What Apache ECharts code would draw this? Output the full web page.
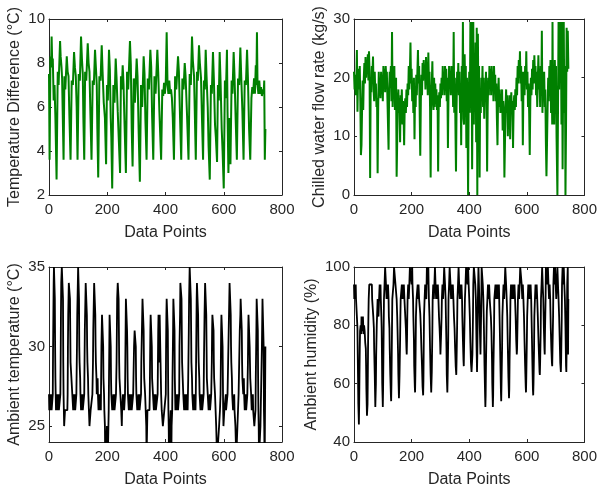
<!DOCTYPE html>
<html><head><meta charset="utf-8">
<script src="https://cdn.jsdelivr.net/npm/echarts@6/dist/echarts.min.js"></script>
<style>html,body{margin:0;padding:0;background:#fff}#c{width:600px;height:492px}</style>
</head><body><div id="c"></div>
<script>
// ---- data (x = data point index, y = value) ----
const xTicks = [0, 200, 400, 600, 800];
const ambTempTicks = [25, 30, 35];

const tempDiff = [
[0,7.5],[2,3.6],[5,8.3],[7,7.8],[9,9.2],[11,8.0],[13,8.2],[16,6.3],[19,7.0],[22,5.5],[26,2.7],
[30,7.6],[33,7.0],[38,9.0],[40,8.3],[43,7.8],[45,7.3],[47,5.8],[50,3.6],
[53,7.4],[56,6.8],[61,8.3],[64,7.6],[67,7.4],[70,5.6],[74,3.6],
[78,7.2],[82,7.0],[86,8.5],[89,7.8],[92,7.4],[95,6.0],[98,3.6],
[102,7.5],[106,7.2],[110,9.2],[113,8.2],[116,7.5],[118,5.5],[121,3.6],
[124,7.6],[128,7.2],[133,8.9],[136,8.0],[139,7.6],[142,5.8],[146,3.6],
[150,7.2],[154,7.0],[158,8.6],[161,7.8],[164,7.0],[166,5.0],[169,2.8],
[173,7.4],[177,7.2],[181,8.8],[184,7.6],[188,6.2],[192,5.5],[196,3.4],
[199,7.0],[202,6.3],[206,8.6],[209,7.7],[212,5.5],[214,4.6],[217,2.3],
[221,7.0],[225,6.2],[229,8.2],[232,7.3],[236,5.8],[240,4.4],[244,3.0],
[247,7.4],[250,6.8],[253,7.9],[256,7.0],[259,5.4],[264,3.0],
[268,7.6],[272,6.8],[278,9.0],[281,7.9],[284,5.0],[287,3.3],
[291,7.3],[295,6.2],[301,8.2],[304,7.4],[308,4.8],[312,2.6],
[316,7.0],[320,6.0],[325,8.3],[328,7.5],[331,5.4],[335,3.6],
[339,7.3],[343,6.8],[348,8.6],[351,7.8],[354,5.6],[358,3.6],
[362,7.4],[366,6.6],[372,8.6],[375,7.6],[379,5.8],[385,3.6],
[389,6.8],[392,6.5],[395,7.1],[398,6.6],[401,7.2],[404,9.4],[407,7.0],[410,6.6],[413,7.2],[416,6.6],[419,6.8],[422,6.4],[425,5.5],[429,3.6],
[433,7.4],[437,6.8],[443,8.3],[446,7.6],[450,5.5],[454,3.6],
[458,7.3],[462,6.8],[466,8.0],[469,7.4],[474,5.6],[479,3.6],
[483,7.5],[487,7.0],[491,9.2],[494,8.1],[498,7.4],[501,5.5],[504,3.6],
[508,7.6],[511,7.2],[515,8.8],[518,8.0],[522,7.3],[525,5.6],[529,3.6],
[532,7.2],[535,6.8],[538,8.6],[541,7.4],[545,6.0],[548,4.2],[552,2.7],
[556,7.0],[559,6.6],[563,8.5],[566,7.3],[570,5.2],[573,4.6],[577,3.5],
[580,7.0],[583,6.3],[586,8.5],[589,7.2],[593,5.0],[596,4.0],[600,2.3],
[604,7.2],[607,6.4],[611,8.6],[613,5.8],[616,3.0],[620,5.5],[623,3.4],
[627,7.2],[630,6.6],[634,8.5],[637,7.4],[641,5.4],[645,3.6],
[649,7.3],[653,7.0],[657,8.7],[660,7.4],[664,5.8],[668,3.6],
[672,7.2],[676,7.0],[680,8.6],[683,7.3],[687,5.0],[691,3.6],
[695,6.4],[698,6.9],[701,6.6],[704,7.3],[707,6.6],[710,7.9],[712,7.0],[714,9.4],[716,7.0],[719,6.6],[722,7.2],[725,6.6],[728,6.9],[731,6.5],[734,6.8],[737,6.6],[739,7.2],[741,3.6],[743,5.0]
];

const flowRate = [
[0,21],[2,18],[4,20.5],[6,17],[8,19],[10,24.7],[12,14.2],[14,20],[16,21.5],[18,18],[20,22],[22,16],[24,6.8],[26,8.5],[28,14.5],[30,19.5],[32,14.5],[34,20],[36,22.5],[38,19],[40,23.5],[42,20],[44,23],[46,21],[48,24],[50,19.5],[52,24.5],[54,21],[56,2.9],[58,20],[60,17.5],[62,22],[64,20.5],[66,23.6],[68,18],[70,16],[72,21],[74,17],[76,19],[78,15],[80,16.5],[82,3.7],[84,15],[86,21],[88,17],[90,19.5],[92,16.5],[94,21],[96,18.5],[98,20],
[100,16],[102,22],[104,19],[106,21.5],[108,17.5],[110,22],[112,20],[114,21],[116,16.5],[118,12],[120,7.7],[122,18],[124,21],[126,19.5],[128,22],[130,16],[132,27.8],[134,15],[136,20],[138,17],[140,22],[142,14.5],[144,18],[146,20],[148,3.1],[150,9.5],[152,16],[154,18],[156,14],[158,16.5],[160,9],[162,17],[164,15],[166,18],[168,12],[170,16],[172,14],[174,8.5],[176,15],[178,16.5],[180,14],[182,18],[184,15],[186,19],[188,17],[190,22],[192,18],[194,21],[196,26],[198,19],
[200,21.5],[202,16],[204,19.5],[206,14],[208,20],[210,9.5],[212,18],[214,15],[216,20.5],[218,17],[220,21],[222,24.7],[224,19],[226,22],[228,14],[230,6.7],[232,16],[234,20.5],[236,17],[238,22.5],[240,19.5],[242,23],[244,20],[246,22],[248,18],[250,23.5],[252,20],[254,22],[256,17],[258,24.3],[260,19],[262,21],[264,15],[266,3],[268,16],[270,19],[272,22.8],[274,16],[276,14.5],[278,20],[280,15],[282,19],[284,15.5],[286,18],[288,14.5],[290,17],[292,4],[294,15],[296,17.5],[298,15],
[300,19],[302,16.5],[304,20],[306,17],[308,22],[310,18],[312,21],[314,17],[316,22],[318,19],[320,21.5],[322,16],[324,20],[326,8],[328,17],[330,22],[332,19],[334,21],[336,17],[338,22],[340,18.5],[342,21],[344,15],[346,27.8],[348,14],[350,20],[352,12],[354,4],[356,15],[358,21],[360,18],[362,22.5],[364,17],[366,21],[368,14],[370,19],[372,8.5],[374,22],[376,15],[378,29.5],[380,13],[382,12],[384,24],[386,18],[388,22],[390,8],[392,20],[394,14],[396,0],[398,16],
[400,21],[402,14],[404,29.5],[406,18],[408,29.5],[410,4.4],[412,22],[414,29.5],[416,12],[418,24],[420,16],[422,26],[424,9],[426,28.5],[428,0],[430,27.5],[432,13],[434,22],[436,3],[438,18],[440,14],[442,20],[444,16.5],[446,22],[448,15],[450,20],[452,13],[454,18],[456,16],[458,21],[460,17],[462,4],[464,15],[466,20],[468,17],[470,22],[472,19],[474,21.5],[476,17],[478,22],[480,18.5],[482,21],[484,16],[486,22],[488,18],[490,20.5],[492,16],[494,19],[496,13],[498,8.5],
[500,16],[502,20],[504,15],[506,18],[508,14],[510,17],[512,15],[514,18],[516,11],[518,16],[520,14],[522,3],[524,9],[526,15],[528,18],[530,14],[532,17],[534,10],[536,16],[538,14.5],[540,17],[542,9.5],[544,15],[546,17.5],[548,14],[550,16],[552,8],[554,15],[556,17],[558,14.5],[560,18],[562,15],[564,20],[566,17],[568,22],[570,19],[572,23],[574,20],[576,24.5],[578,19],[580,22],[582,16],[584,21],[586,8.5],[588,18],[590,21],[592,17],[594,22],[596,19],[598,24.5],
[600,18],[602,21],[604,15],[606,19],[608,14],[610,6.8],[612,16],[614,20],[616,17],[618,21.5],[620,18],[622,23],[624,19],[626,23.8],[628,20],[630,22],[632,17],[634,21],[636,15],[640,23.8],[642,18],[644,21],[646,15],[648,22],[650,17],[652,28],[654,14],[656,20],[658,17],[660,21],[662,15],[664,18],[666,9],[668,3.2],[670,9],[672,15],[674,20],[676,16],[678,22],[680,18],[682,23],[684,14],[686,21],[688,12],[689,29.5],[691,12],[693,19],[695,12],[697,23],[699,18],
[701,22],[703,10],[706,0],[708,14],[710,29.5],[712,18],[714,29.5],[716,22],[718,29.5],[720,12],[722,29.5],[724,4.4],[726,20],[728,29.5],[730,14],[732,22],[734,0],[736,12],[738,28.5],[740,21],[742,28],[744,21.5]
];

const ambTemp = [
[0,27],[1,26],[2,27],[3,26],[5,27],[6,26],[8,27],[9,26],[11,26],
[13,27],[14,30],[15,32],[16,34],[17,35],[19,35],[20,33],[21,30],[22,28],[23,27],[24,26],[26,27],[27,26],[29,27],[30,26],[33,27],[34,26],[38,26],
[39,27],[40,29],[41,32],[42,34],[44,35],[47,35],[48,33],[49,29],[50,27],[51,26],[52,25],[54,25],[55,26],[63,26],
[64,27],[65,30],[66,32],[67,33],[68,34],[71,34],[72,33],[73,31],[74,29],[76,29],[77,28],[79,28],[80,27],[82,27],[83,26],[86,27],[87,26],[89,27],[90,26],[93,26],
[94,27],[96,30],[97,32],[98,33],[99,34],[100,35],[102,35],[103,33],[104,30],[105,29],[107,28],[108,27],[110,26],[112,27],[113,26],[115,27],[116,26],[120,26],
[121,27],[122,29],[123,31],[125,33],[126,34],[129,34],[130,32],[131,30],[132,29],[134,28],[135,27],[137,26],[139,25],[142,25],[143,26],[148,26],
[149,27],[151,29],[152,31],[154,33],[155,34],[158,34],[159,32],[160,30],[161,29],[163,28],[164,27],[166,27],[167,28],[168,27],[170,26],[173,26],[174,27],[176,26],[177,27],[178,26],
[179,28],[180,30],[181,31],[182,32],[185,32],[186,30],[187,28],[189,27],[190,26],[192,25],[193,23],[196,23],[197,24],[199,25],[201,25],[202,23],[203,23],[205,26],
[206,28],[207,30],[208,32],[211,32],[212,30],[213,28],[214,27],[216,27],[217,26],[220,26],[221,27],[222,26],[224,27],[225,26],[229,26],
[230,27],[232,29],[233,31],[234,33],[236,34],[238,34],[239,33],[240,31],[241,29],[242,28],[244,28],[245,27],[247,27],[248,26],[250,25],[251,26],[254,27],[255,26],[257,27],[258,26],[260,26],
[261,27],[262,29],[263,31],[264,33],[267,33],[268,31],[269,30],[270,28],[271,27],[273,27],[274,26],[276,27],[277,26],[279,27],[280,26],[283,27],[284,26],[288,26],
[289,27],[290,28],[292,30],[294,31],[297,31],[298,30],[299,28],[300,27],[302,27],[303,26],[306,26],[307,27],[308,26],[310,27],[311,26],[315,26],
[316,27],[317,29],[319,31],[320,32],[321,33],[324,33],[325,31],[326,29],[327,28],[329,28],[330,27],[332,26],[334,25],[335,23],[337,23],[338,26],[345,26],
[346,27],[347,29],[348,31],[349,32],[352,32],[353,30],[354,28],[356,28],[357,27],[359,27],[360,26],[362,27],[363,26],[366,27],[367,26],[372,26],
[373,27],[374,29],[375,31],[376,32],[377,29],[378,32],[379,31],[380,32],[382,32],[383,29],[384,28],[385,27],[387,26],[390,26],[391,25],[394,25],[396,26],[400,26],
[401,27],[402,30],[403,32],[404,33],[407,33],[408,31],[409,28],[410,26],[411,25],[412,23],[415,23],[416,25],[418,26],[419,24],[420,23],[421,25],[423,26],
[424,28],[426,31],[427,33],[430,33],[431,31],[432,28],[433,27],[434,26],[436,27],[437,26],[439,27],[440,26],[442,27],[443,26],[446,26],
[447,27],[448,30],[450,32],[451,34],[454,34],[455,33],[456,31],[457,29],[459,28],[461,27],[463,27],[464,26],[466,27],[467,26],[469,27],[470,26],[473,26],[475,27],[476,26],[477,27],
[478,28],[480,31],[481,33],[482,34],[483,35],[486,35],[487,33],[488,31],[489,29],[491,28],[492,27],[494,27],[495,26],[497,27],[498,26],[501,26],[502,27],[503,26],
[504,27],[505,29],[506,31],[507,33],[508,34],[511,34],[512,32],[513,30],[514,29],[516,28],[517,27],[519,27],[520,26],[522,27],[523,26],[525,27],[526,26],[530,26],
[531,27],[532,29],[534,32],[535,33],[536,34],[539,34],[540,32],[541,30],[542,28],[544,28],[545,27],[547,27],[548,26],[551,26],[552,27],[553,26],[556,26],
[557,27],[559,29],[560,31],[561,32],[564,32],[565,31],[566,29],[567,28],[569,28],[570,27],[572,26],[574,25],[576,25],[577,23],[583,23],[584,25],[586,25],[587,26],
[589,27],[590,29],[591,31],[592,32],[595,32],[596,30],[597,28],[598,26],[599,25],[601,25],[602,26],[606,26],[607,27],[608,26],[612,26],
[613,27],[615,29],[617,31],[619,33],[620,34],[623,34],[624,32],[625,30],[626,29],[628,28],[629,27],[631,27],[632,26],[635,26],[636,27],[637,26],[640,25],[642,25],[643,23],[646,23],[647,25],[649,26],[651,27],
[653,29],[655,31],[657,32],[658,33],[661,33],[662,31],[663,29],[664,28],[666,28],[667,27],[669,28],[670,27],[672,26],[675,26],[676,27],[677,26],[680,26],
[681,27],[683,29],[684,31],[685,32],[688,32],[689,30],[690,29],[691,28],[693,28],[694,27],[696,26],[699,26],[700,27],[701,26],[704,26],[705,25],[708,25],[709,26],
[710,28],[712,31],[713,33],[716,33],[717,31],[718,28],[719,26],[720,25],[721,23],[725,23],[726,25],[727,26],
[729,28],[731,30],[733,33],[736,33],[737,30],[738,26],[739,25],[740,23],[741,24],[742,27],[743,30],[744,30]
];

const ambHum = [
[0,94],[1,89],[3,94],[4,89],[6,94],[7,89],[9,89],[10,83],[12,79],[13,70],[14,62],[15,53],[17,46],[18,53],[19,63],[20,72],[21,78],[23,80],[25,77],[26,83],[28,78],[30,80],[31,83],[33,77],[35,80],[37,78],[39,74],[41,72],[42,66],[43,58],[45,49],[47,53],[48,63],[49,75],[50,83],[51,89],[53,94],[62,94],[63,89],[65,89],[67,83],[69,79],[70,72],[72,63],[74,52],[75,52],[76,60],[77,70],[79,80],[80,83],[82,89],[84,89],[85,83],[87,89],[89,94],[90,89],[92,94],[93,89],[95,83],[96,79],[97,70],[98,60],[100,52],
[101,58],[102,68],[103,79],[104,89],[106,94],[108,100],[110,100],[111,94],[113,89],[115,94],[116,89],[118,94],[120,89],[121,83],[123,79],[124,72],[126,63],[128,56],[129,54],[130,60],[131,70],[132,80],[133,89],[135,89],[137,94],[139,100],[143,100],[144,94],[146,94],[148,89],[150,83],[151,79],[153,70],[154,63],[156,55],[157,55],[158,63],[160,75],[161,83],[162,89],[164,89],[166,94],[168,89],[170,94],[171,89],[173,94],[175,89],[177,89],[178,83],[180,79],[182,72],[183,70],[184,75],[185,83],[186,89],[188,94],[190,89],[192,94],[194,100],[199,100],
[200,94],[202,100],[203,94],[205,89],[206,83],[208,75],[209,66],[211,59],[212,57],[213,63],[214,72],[215,83],[217,89],[219,89],[221,94],[222,89],[224,94],[226,89],[228,89],[230,84],[232,79],[234,72],[236,66],[238,59],[240,56],[241,61],[242,72],[243,83],[245,89],[247,94],[249,94],[251,89],[253,100],[256,100],[257,94],[258,100],[259,94],[260,89],[262,83],[264,72],[266,63],[268,57],[269,57],[270,64],[272,78],[273,89],[275,94],[277,89],[279,94],[281,100],[283,94],[285,89],[287,94],[289,89],[291,94],[293,89],[295,83],[297,79],[299,74],
[300,70],[301,70],[302,76],[304,83],[305,89],[307,94],[309,89],[311,94],[313,100],[315,100],[316,94],[318,89],[319,83],[321,72],[322,63],[324,57],[325,62],[327,75],[328,89],[330,94],[332,100],[334,100],[335,94],[337,89],[339,94],[341,89],[343,94],[345,89],[347,83],[349,79],[351,72],[353,66],[355,63],[356,68],[358,80],[359,89],[361,94],[363,100],[365,94],[367,89],[369,94],[371,89],[373,94],[375,89],[376,83],[378,75],[380,68],[381,66],[382,72],[384,83],[385,89],[387,94],[389,100],[393,100],[394,94],[396,100],[398,94],
[400,89],[402,83],[404,74],[406,67],[408,64],[410,64],[411,70],[413,83],[414,94],[416,100],[420,100],[421,94],[423,89],[425,75],[427,64],[428,70],[430,89],[432,100],[434,100],[435,89],[437,78],[439,70],[440,76],[442,89],[443,100],[446,100],[447,94],[449,89],[451,79],[453,66],[455,56],[456,52],[457,56],[458,66],[460,79],[461,85],[463,89],[465,94],[467,89],[469,94],[471,89],[473,89],[475,83],[477,78],[479,68],[480,60],[482,52],[483,56],[484,66],[486,78],[487,89],[489,89],[491,94],[493,89],[495,94],[497,89],[499,94],
[501,89],[503,94],[504,89],[506,79],[508,68],[510,57],[511,54],[512,60],[514,72],[515,83],[517,89],[519,94],[521,89],[523,94],[525,100],[527,100],[528,94],[530,89],[532,83],[534,72],[536,62],[538,55],[539,58],[540,68],[542,80],[543,89],[545,94],[547,89],[549,94],[551,89],[553,94],[555,89],[557,94],[559,89],[561,83],[563,75],[565,70],[566,72],[568,83],[569,89],[571,94],[573,89],[575,94],[577,100],[581,100],[582,94],[584,89],[586,94],[588,89],[590,83],[592,74],[594,66],[596,59],[597,57],[598,62],
[600,75],[601,83],[603,89],[605,94],[607,89],[609,94],[611,89],[613,94],[615,89],[617,79],[619,68],[621,58],[622,56],[623,60],[625,72],[626,83],[628,89],[630,94],[632,89],[634,94],[636,89],[638,83],[640,76],[642,70],[644,64],[645,63],[646,67],[648,78],[649,89],[651,94],[653,100],[655,94],[657,89],[659,79],[661,72],[662,70],[663,78],[665,89],[666,100],[670,100],[671,94],[673,100],[675,94],[677,89],[679,94],[681,89],[683,79],[685,72],[687,67],[688,66],[689,72],[691,83],[692,94],[694,100],[696,94],[698,100],
[700,94],[702,89],[704,94],[706,100],[708,94],[710,89],[712,83],[714,75],[716,67],[718,64],[719,68],[721,82],[722,94],[724,100],[726,94],[728,100],[730,94],[732,89],[734,79],[736,66],[737,64],[738,72],[740,94],[742,100],[743,70],[744,89]
];

// ---- layout / styling ----
const FONT = 'Liberation Sans, Arial, Helvetica, sans-serif';
const AX = '#262626';
const panels = [
  {data: tempDiff, color: '#008000', width: 2, yMin: 2, yMax: 10, yInt: 2, yName: 'Temperature Difference (°C)', grid: {left: 49, top: 19, width: 233, height: 176}, gap: 26},
  {data: flowRate, color: '#008000', width: 2, yMin: 0, yMax: 30, yInt: 10, yName: 'Chilled water flow rate (kg/s)', grid: {left: 354, top: 19, width: 233, height: 176}, gap: 26},
  {data: ambTemp, color: '#000000', width: 1.8, yMin: 24, yMax: 35, yTicks: ambTempTicks, yName: 'Ambient temperature (°C)', grid: {left: 49, top: 267, width: 233, height: 175}, gap: 26},
  {data: ambHum, color: '#000000', width: 1.8, yMin: 40, yMax: 100, yInt: 20, yName: 'Ambient humidity (%)', grid: {left: 354, top: 267, width: 233, height: 175}, gap: 34}
];

const xAxes = [], yAxes = [], series = [];
panels.forEach((p, i) => {
  [false, true].forEach(mirror => {
    xAxes.push({
      type: 'value', gridIndex: i, position: mirror ? 'top' : 'bottom',
      min: xTicks[0], max: xTicks[xTicks.length - 1], interval: xTicks[1] - xTicks[0],
      axisLine: {show: true, onZero: false, lineStyle: {color: AX, width: 1}},
      axisTick: {show: true, inside: true, length: 3, lineStyle: {color: AX}},
      axisLabel: {show: !mirror, color: AX, fontSize: 15, fontFamily: FONT, margin: 7},
      splitLine: {show: false},
      name: mirror ? '' : 'Data Points', nameLocation: 'middle', nameGap: 30,
      nameTextStyle: {color: AX, fontSize: 16, fontFamily: FONT}
    });
    const ya = {
      type: 'value', gridIndex: i, position: mirror ? 'right' : 'left',
      min: p.yMin, max: p.yMax,
      axisLine: {show: true, onZero: false, lineStyle: {color: AX, width: 1}},
      axisTick: {show: true, inside: true, length: 3, lineStyle: {color: AX}},
      axisLabel: {show: !mirror, color: AX, fontSize: 15, fontFamily: FONT, margin: 4, showMinLabel: true, showMaxLabel: true},
      splitLine: {show: false},
      name: mirror ? '' : p.yName, nameLocation: 'middle', nameGap: p.gap,
      nameTextStyle: {color: AX, fontSize: 16, fontFamily: FONT}
    };
    if (p.yTicks) {
      ya.axisTick.customValues = p.yTicks;
      ya.axisLabel.customValues = p.yTicks;
    } else {
      ya.interval = p.yInt;
    }
    yAxes.push(ya);
  });
  series.push({
    type: 'line', xAxisIndex: 2 * i, yAxisIndex: 2 * i,
    data: p.data, showSymbol: false, symbol: 'none', clip: true,
    lineStyle: {color: p.color, width: p.width}, silent: true
  });
});

const chart = echarts.init(document.getElementById('c'), null, {renderer: 'canvas'});
chart.setOption({
  animation: false,
  backgroundColor: '#ffffff',
  grid: panels.map(p => Object.assign({containLabel: false}, p.grid)),
  xAxis: xAxes, yAxis: yAxes, series: series
});
</script>
</body></html>
